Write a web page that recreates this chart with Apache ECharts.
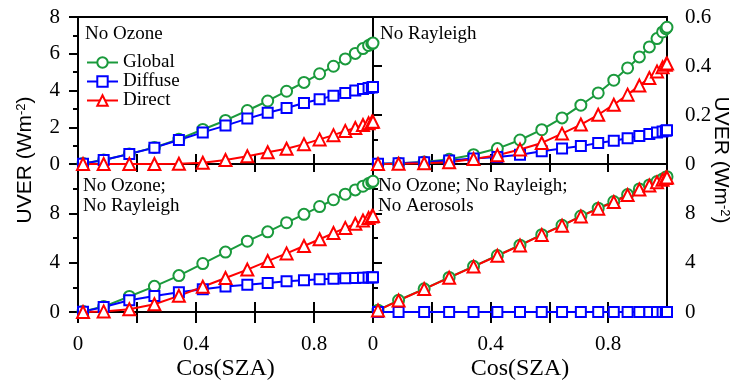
<!DOCTYPE html>
<html>
<head>
<meta charset="utf-8">
<script src="https://cdn.jsdelivr.net/npm/echarts@6/dist/echarts.min.js"></script>
<style>
html, body { margin: 0; padding: 0; background: #fff; }
#uver { width: 739px; height: 386px; }
</style>
</head>
<body>
<div id="uver"></div>
<script>
// cos(SZA) positions of the model runs
var cosSza = [0.017, 0.087, 0.174, 0.259, 0.342, 0.423, 0.5, 0.574, 0.643, 0.707, 0.766, 0.819, 0.866, 0.906, 0.94, 0.966, 0.985, 0.996, 1.0];

// No Ozone
var noO3Global  = [0.03, 0.22, 0.55, 0.9, 1.35, 1.88, 2.37, 2.91, 3.43, 3.96, 4.44, 4.91, 5.32, 5.72, 6.02, 6.28, 6.45, 6.55, 6.58];
var noO3Diffuse = [0.02, 0.22, 0.54, 0.89, 1.31, 1.72, 2.09, 2.47, 2.79, 3.05, 3.32, 3.52, 3.72, 3.87, 4.0, 4.08, 4.14, 4.17, 4.19];
var noO3Direct  = [0, 0, 0, 0, 0.01, 0.07, 0.22, 0.42, 0.64, 0.83, 1.08, 1.34, 1.57, 1.8, 1.96, 2.12, 2.22, 2.28, 2.3];

// No Rayleigh
var noRayGlobal  = [0, 0.003, 0.008, 0.019, 0.038, 0.063, 0.098, 0.14, 0.188, 0.24, 0.29, 0.342, 0.392, 0.437, 0.478, 0.512, 0.539, 0.552, 0.558];
var noRayDiffuse = [0.001, 0.003, 0.007, 0.014, 0.022, 0.029, 0.038, 0.052, 0.063, 0.073, 0.086, 0.095, 0.105, 0.114, 0.122, 0.129, 0.133, 0.136, 0.138];
var noRayDirect  = [0, 0.001, 0.003, 0.007, 0.02, 0.036, 0.059, 0.086, 0.124, 0.161, 0.201, 0.242, 0.283, 0.32, 0.351, 0.378, 0.395, 0.405, 0.41];

// No Ozone; No Rayleigh
var noO3RayGlobal  = [0.05, 0.44, 1.26, 2.08, 2.95, 3.93, 4.86, 5.74, 6.5, 7.24, 7.92, 8.55, 9.1, 9.55, 9.9, 10.2, 10.42, 10.53, 10.6];
var noO3RayDiffuse = [0.03, 0.4, 0.95, 1.3, 1.6, 1.85, 2.07, 2.2, 2.35, 2.49, 2.57, 2.65, 2.7, 2.73, 2.75, 2.78, 2.8, 2.79, 2.81];
var noO3RayDirect  = [0, 0.05, 0.22, 0.63, 1.31, 2.05, 2.76, 3.44, 4.13, 4.75, 5.35, 5.9, 6.4, 6.82, 7.15, 7.42, 7.62, 7.74, 7.79];

// No Ozone; No Rayleigh; No Aerosols
var cleanGlobal  = [0.15, 0.95, 1.88, 2.8, 3.7, 4.58, 5.42, 6.27, 7.03, 7.78, 8.42, 8.96, 9.52, 9.98, 10.3, 10.58, 10.78, 10.92, 10.97];
var cleanDiffuse = [0, 0, 0, 0, 0, 0, 0, 0, 0, 0, 0, 0, 0, 0, 0, 0, 0, 0, 0];
var cleanDirect  = [0.13, 0.93, 1.86, 2.78, 3.68, 4.56, 5.4, 6.25, 7.0, 7.75, 8.38, 8.92, 9.48, 9.93, 10.25, 10.52, 10.72, 10.86, 10.9];

var serif = 'Liberation Serif';
var black = '#000';

var looks = {
    Global:  { color: '#1a9a3c', symbol: 'emptyCircle',   size: 11 },
    Diffuse: { color: '#0000ff', symbol: 'emptyRect',     size: 10 },
    Direct:  { color: '#ff0000', symbol: 'emptyTriangle', size: 12 }
};

function pairs(ys) {
    return cosSza.map(function (x, i) { return [x, ys[i]]; });
}

function line(name, ys, idx) {
    var s = looks[name];
    return {
        name: name,
        type: 'line',
        xAxisIndex: idx,
        yAxisIndex: idx,
        data: pairs(ys),
        symbol: s.symbol,
        symbolSize: s.size,
        color: s.color,
        lineStyle: { color: s.color, width: 2 },
        itemStyle: { color: s.color, borderColor: s.color, borderWidth: 1.6 },
        emphasis: { disabled: true }
    };
}

// x axis: only 0, 0.4, 0.8 get a label
function xLabel(v) {
    var r = Math.round(v * 10);
    return (r === 0 || r === 4 || r === 8) ? String(r / 10) : '';
}

function xAxis(grid, opts) {
    var a = {
        type: 'value', gridIndex: grid, min: 0, max: 1, interval: 0.2,
        position: opts.position || 'bottom',
        axisLine: { show: true, lineStyle: { color: black, width: 2 } },
        axisTick: { show: true, inside: opts.inside, length: opts.len, lineStyle: { color: black, width: 2 } },
        axisLabel: { show: !!opts.labels, formatter: xLabel, margin: 22, color: black, fontSize: 21, fontFamily: serif, showMaxLabel: false },
        splitLine: { show: false }
    };
    if (opts.labels) {
        a.name = 'Cos(SZA)';
        a.nameLocation = 'middle';
        a.nameGap = 45;
        a.nameTextStyle = { color: black, fontSize: 24, fontFamily: serif };
    }
    return a;
}

function yAxis(grid, pos, max, step, hideMax, fmt) {
    return {
        type: 'value', gridIndex: grid, position: pos, min: 0, max: max, interval: step,
        axisLine: { show: true, lineStyle: { color: black, width: 2 } },
        axisTick: { show: true, inside: false, length: 9, lineStyle: { color: black, width: 2 } },
        minorTick: { show: true, splitNumber: 2, length: 5, lineStyle: { color: black, width: 2 } },
        axisLabel: { margin: 18, color: black, fontSize: 21, fontFamily: serif, showMaxLabel: !hideMax, formatter: fmt },
        splitLine: { show: false }
    };
}

var myChart = echarts.init(document.getElementById('uver'));

var frame = { show: true, borderColor: black, borderWidth: 2, backgroundColor: 'transparent' };
var option = {
    animation: false,
    backgroundColor: '#fff',
    grid: [
        Object.assign({ left: 78, top: 17, width: 295, height: 147 }, frame),
        Object.assign({ left: 373, top: 17, width: 294, height: 147 }, frame),
        Object.assign({ left: 78, top: 164, width: 295, height: 148 }, frame),
        Object.assign({ left: 373, top: 164, width: 294, height: 148 }, frame)
    ],
    xAxis: [
        xAxis(0, { inside: true, len: 10 }),
        xAxis(1, { inside: true, len: 10 }),
        xAxis(2, { inside: false, len: 11, labels: true }),
        xAxis(3, { inside: false, len: 11, labels: true }),
        xAxis(2, { inside: true, len: 10 }),
        xAxis(3, { inside: true, len: 10 }),
        xAxis(2, { inside: true, len: 8, position: 'top' }),
        xAxis(3, { inside: true, len: 8, position: 'top' })
    ],
    yAxis: [
        yAxis(0, 'left', 8, 2, false),
        yAxis(1, 'right', 0.6, 0.2, false, function (v) { return String(Math.round(v * 10) / 10); }),
        yAxis(2, 'left', 12, 4, true),
        yAxis(3, 'right', 12, 4, true)
    ],
    legend: {
        data: ['Global', 'Diffuse', 'Direct'],
        orient: 'vertical',
        left: 86, top: 53,
        padding: 0,
        itemWidth: 31, itemHeight: 13, itemGap: 0,
        textStyle: { color: black, fontSize: 19, fontFamily: serif },
        selectedMode: false
    },
    graphic: [
        { type: 'text', left: 85, top: 25, style: { text: 'No Ozone', font: '19px "Liberation Serif"', fill: black } },
        { type: 'text', left: 380, top: 25, style: { text: 'No Rayleigh', font: '19px "Liberation Serif"', fill: black } },
        { type: 'text', left: 83, top: 176, style: { text: 'No Ozone;\nNo Rayleigh', font: '19px "Liberation Serif"', lineHeight: 20, fill: black } },
        { type: 'text', left: 378, top: 176, style: { text: 'No Ozone; No Rayleigh;\nNo Aerosols', font: '19px "Liberation Serif"', lineHeight: 20, fill: black } },
        {
            type: 'text', x: 25, y: 160, rotation: Math.PI / 2,
            style: {
                text: 'UVER (Wm{sup|-2})', align: 'center', verticalAlign: 'middle',
                font: '21px "Liberation Sans"', fill: black,
                rich: { sup: { fontSize: 13, fontFamily: 'Liberation Sans', verticalAlign: 'top', fill: black } }
            }
        },
        {
            type: 'text', x: 721, y: 160, rotation: -Math.PI / 2,
            style: {
                text: 'UVER (Wm{sup|-2})', align: 'center', verticalAlign: 'middle',
                font: '21px "Liberation Sans"', fill: black,
                rich: { sup: { fontSize: 13, fontFamily: 'Liberation Sans', verticalAlign: 'top', fill: black } }
            }
        }
    ],
    series: [
        line('Global', noO3Global, 0),
        line('Diffuse', noO3Diffuse, 0),
        line('Direct', noO3Direct, 0),
        line('Global', noRayGlobal, 1),
        line('Diffuse', noRayDiffuse, 1),
        line('Direct', noRayDirect, 1),
        line('Global', noO3RayGlobal, 2),
        line('Diffuse', noO3RayDiffuse, 2),
        line('Direct', noO3RayDirect, 2),
        line('Global', cleanGlobal, 3),
        line('Diffuse', cleanDiffuse, 3),
        line('Direct', cleanDirect, 3)
    ]
};

myChart.setOption(option);
window.addEventListener('resize', function () { myChart.resize(); });
</script>
</body>
</html>
